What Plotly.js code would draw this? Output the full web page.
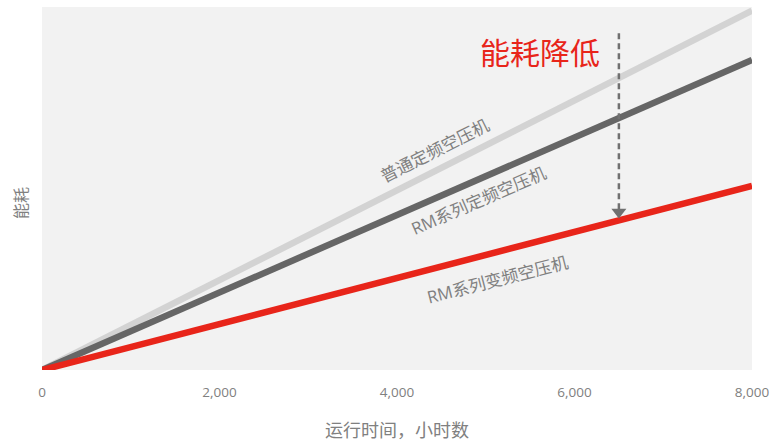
<!DOCTYPE html>
<html>
<head>
<meta charset="utf-8">
<script src="https://cdn.plot.ly/plotly-3.0.1.min.js"></script>
<style>html,body{margin:0;padding:0;background:#fff;}#chart{width:777px;height:443px;}</style>
</head>
<body>
<div id="chart"></div>
<script>
// Data
var hours = [0, 8000];
var seriesNames = ["普通定频空压机", "RM系列定频空压机", "RM系列变频空压机"];
var normalFixed = [0, 99];
var rmFixed = [0, 85.4];
var rmVariable = [0, 50.7];
var arrowX = [6500, 6500];
var arrowY = [92.8, 43.5];
var xTickVals = [0, 2000, 4000, 6000, 8000];
var xTickText = ["0", "2,000", "4,000", "6,000", "8,000"];
var labelX = [4420, 4913, 5127];
var labelY = [60.6, 46.8, 25.0];
var labelAngle = [-26.8, -23.5, -14.4];

var colors = ["#d3d3d3", "#666666", "#e8251a"];
var values = [normalFixed, rmFixed, rmVariable];
var font = "Open Sans, Noto Sans CJK SC, sans-serif";

var traces = values.map(function (v, i) {
  return {x: hours, y: v, type: "scatter", mode: "lines", name: seriesNames[i],
    line: {color: colors[i], width: 6.5}, hoverinfo: "skip"};
});
traces.push({x: arrowX, y: arrowY, type: "scatter", mode: "lines",
  line: {color: "#707070", width: 2.5, dash: "6px,4px"}, hoverinfo: "skip"});
traces.push({x: [arrowX[1]], y: [arrowY[1]], type: "scatter", mode: "markers",
  marker: {symbol: "triangle-down", size: 13, color: "#707070"}, hoverinfo: "skip"});

var annotations = seriesNames.map(function (n, i) {
  return {x: labelX[i], y: labelY[i], xref: "x", yref: "y", text: n, showarrow: false,
    textangle: labelAngle[i], font: {family: font, size: 17, color: "#808080"}};
});
annotations.push({x: 5611, y: 87.5, xref: "x", yref: "y", text: "能耗降低", showarrow: false,
  font: {family: font, size: 30, color: "#e8251a"}});
annotations.push({x: -0.0296, y: 0.46, xref: "paper", yref: "paper", xanchor: "center",
  yanchor: "middle", text: "能耗", showarrow: false,
  textangle: -90, font: {family: font, size: 16, color: "#808080"}});

var layout = {
  width: 777, height: 443,
  margin: {l: 42, r: 25, t: 7, b: 73},
  paper_bgcolor: "#ffffff", plot_bgcolor: "#f2f2f2",
  showlegend: false,
  font: {family: font, color: "#808080"},
  xaxis: {range: [0, 8000], tickvals: xTickVals, ticktext: xTickText, showgrid: false,
    zeroline: false, showline: false, ticks: "", ticklabelstandoff: 12,
    tickfont: {size: 13.5, color: "#808080"},
    title: {text: "运行时间，小时数", font: {size: 18, color: "#808080"}, standoff: 24}},
  yaxis: {range: [0, 100], showgrid: false, zeroline: false, showline: false,
    showticklabels: false, ticks: ""},
  annotations: annotations
};
Plotly.newPlot("chart", traces, layout, {staticPlot: true});
</script>
</body>
</html>
